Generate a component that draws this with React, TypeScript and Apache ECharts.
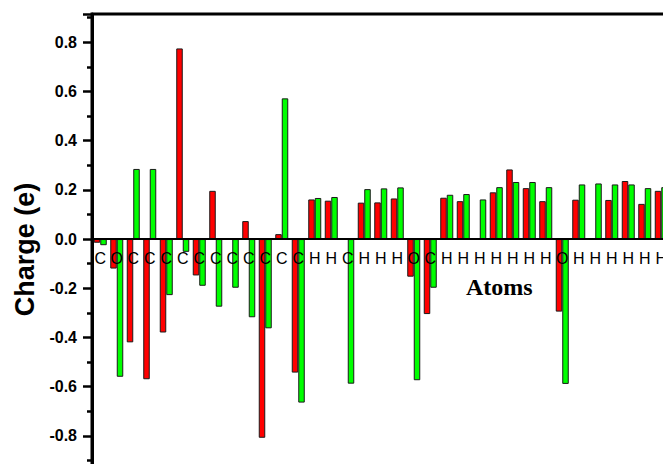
import React, { useEffect, useRef } from "react";
import * as echarts from "echarts";

// Atom symbols along the molecule
const atoms = [
  "C", "O", "C", "C", "C", "C", "C", "C", "C", "C", "C", "C", "C", "H", "H", "C", "H", "H",
  "H", "O", "C", "H", "H", "H", "H", "H", "H", "H", "O", "H", "H", "H", "H", "H", "H",
];

// Charge on each atom, first set (red)
const chargeRed = [
  -0.015, -0.12, -0.42, -0.57, -0.38, 0.775, -0.148, 0.196, 0, 0.073, -0.808, 0.02, -0.543,
  0.161, 0.156, 0, 0.148, 0.149, 0.165, -0.153, -0.305, 0.168, 0.154, 0, 0.19, 0.283, 0.207,
  0.154, -0.295, 0.16, 0, 0.159, 0.236, 0.143, 0.196,
];

// Charge on each atom, second set (green)
const chargeGreen = [
  -0.025, -0.56, 0.285, 0.285, -0.228, -0.052, -0.19, -0.275, -0.198, -0.318, -0.363, 0.572,
  -0.665, 0.167, 0.171, -0.588, 0.203, 0.206, 0.21, -0.574, -0.198, 0.18, 0.183, 0.161, 0.211,
  0.232, 0.232, 0.211, -0.589, 0.222, 0.226, 0.222, 0.222, 0.207, 0.211,
];

const Y_MIN = -1.0;
const Y_MAX = 0.915;

const GRID_TOP = 14;
const GRID_HEIGHT = 471;

export default function App() {
  const ref = useRef<HTMLDivElement>(null);

  useEffect(() => {
    if (!ref.current) return;
    const chart = echarts.init(ref.current, null, { renderer: "svg" });
    const barStyle = (color: string) => ({
      color,
      borderColor: "#1a1a1a",
      borderWidth: 1,
    });
    // lift the category axis from the grid bottom up to the zero line
    const zeroLift = -((0 - Y_MIN) / (Y_MAX - Y_MIN)) * GRID_HEIGHT;
    chart.setOption({
      animation: false,
      backgroundColor: "#ffffff",
      grid: {
        left: 92,
        top: GRID_TOP,
        width: 577.5,
        height: GRID_HEIGHT,
        outerBoundsMode: "none",
        containLabel: false,
        show: true,
        borderColor: "#000",
        borderWidth: 3,
        backgroundColor: "transparent",
      },
      xAxis: [
        {
          type: "category",
          data: atoms,
          position: "bottom",
          offset: zeroLift,
          z: 5,
          axisLine: { onZero: false, lineStyle: { color: "#000", width: 2 } },
          axisTick: {
            alignWithLabel: true,
            length: 8,
            lineStyle: { color: "#000", width: 1.5 },
          },
          axisLabel: {
            interval: 0,
            margin: 11,
            color: "#000",
            fontSize: 16,
            fontFamily: "Liberation Sans, Arial, sans-serif",
          },
          splitLine: { show: false },
        },
        {
          // boundary ticks between atoms
          type: "category",
          data: atoms,
          position: "bottom",
          offset: zeroLift,
          z: 5,
          axisLine: { show: false, onZero: false },
          axisTick: {
            length: 4,
            lineStyle: { color: "#000", width: 1.5 },
          },
          axisLabel: { show: false },
          splitLine: { show: false },
        },
      ],
      yAxis: {
        type: "value",
        min: Y_MIN,
        max: Y_MAX,
        interval: 0.2,
        name: "Charge (e)",
        nameLocation: "middle",
        nameRotate: 90,
        nameGap: 52,
        nameTextStyle: {
          fontSize: 27,
          fontWeight: "bold",
          color: "#000",
          fontFamily: "Liberation Sans, Arial, sans-serif",
        },
        axisLine: { show: true, lineStyle: { color: "#000", width: 3 } },
        axisTick: {
          show: true,
          length: 9,
          lineStyle: { color: "#000", width: 2.5 },
        },
        minorTick: {
          show: true,
          splitNumber: 2,
          length: 5,
          lineStyle: { color: "#000", width: 2.5 },
        },
        axisLabel: {
          margin: 15,
          color: "#000",
          fontSize: 16,
          fontWeight: "bold",
          fontFamily: "Liberation Sans, Arial, sans-serif",
          formatter: (v: number) => v.toFixed(1),
          showMaxLabel: false,
          showMinLabel: false,
        },
        splitLine: { show: false },
      },
      series: [
        {
          type: "bar",
          data: chargeRed,
          barWidth: 6.5,
          barGap: "0%",
          itemStyle: barStyle("#ff0000"),
        },
        {
          type: "bar",
          data: chargeGreen,
          barWidth: 6.5,
          barGap: "0%",
          itemStyle: barStyle("#00ff00"),
        },
      ],
      graphic: [
        {
          type: "text",
          left: 466,
          top: 275,
          style: {
            text: "Atoms",
            font: "bold 24px 'Liberation Serif', 'Times New Roman', serif",
            fill: "#000",
          },
        },
      ],
    });
    return () => chart.dispose();
  }, []);

  return (
    <div
      style={{
        position: "fixed",
        left: 0,
        top: 0,
        width: 663,
        height: 464,
        overflow: "hidden",
        background: "#fff",
      }}
    >
      <div ref={ref} style={{ width: 700, height: 500 }} />
    </div>
  );
}
